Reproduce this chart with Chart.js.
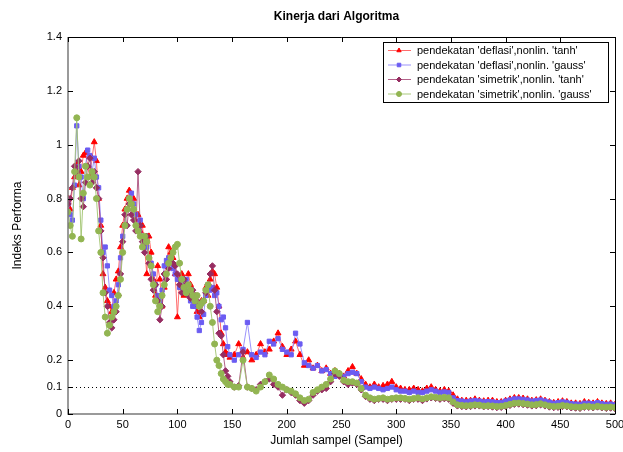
<!DOCTYPE html>
<html>
<head>
<meta charset="utf-8">
<title>Kinerja dari Algoritma</title>
<script src="https://cdn.jsdelivr.net/npm/chart.js@4.4.0/dist/chart.umd.min.js"></script>
<style>
  html, body { margin: 0; padding: 0; background: #fff; }
  #wrap { width: 623px; height: 452px; }
</style>
</head>
<body>
<div id="wrap"><canvas id="kinerja" width="623" height="452"></canvas></div>
<script>
// sample index: every 2nd sample in the noisy start, every 4th after that
const samples = [
  0, 2, 4, 6, 8, 10, 12, 14, 16, 18, 20, 22, 24, 26, 28, 30, 32, 34, 36, 38,
  40, 42, 44, 46, 48, 50, 52, 54, 56, 58, 60, 62, 64, 66, 68, 70, 72, 74, 76, 78,
  80, 82, 84, 86, 88, 90, 92, 94, 96, 98, 100, 102, 104, 106, 108, 110, 112, 114, 116, 118,
  120, 122, 124, 126, 128, 130, 132, 134, 136, 138, 140, 142, 144, 146, 148,
  152, 156,
  160, 164, 168, 172, 176, 180, 184, 188, 192, 196,
  200, 204, 208, 212, 216, 220, 224, 228, 232, 236,
  240, 244, 248, 252, 256, 260, 264, 268, 272, 276,
  280, 284, 288, 292, 296, 300, 304, 308, 312, 316,
  320, 324, 328, 332, 336, 340, 344, 348, 352, 356,
  360, 364, 368, 372, 376, 380, 384, 388, 392, 396,
  400, 404, 408, 412, 416, 420, 424, 428, 432, 436,
  440, 444, 448, 452, 456, 460, 464, 468, 472, 476,
  480, 484, 488, 492, 496, 500
];

const deflasiTanh = [
  0.80, 0.76, 0.84, 0.88, 0.93, 0.85, 0.90, 0.96, 0.97, 0.92, 0.88, 0.95, 1.01, 0.94, 0.80, 0.70, 0.52, 0.47, 0.42, 0.40,
  0.38, 0.45, 0.50, 0.53, 0.62, 0.70, 0.76, 0.80, 0.83, 0.78, 0.80, 0.72, 0.74, 0.68, 0.70, 0.62, 0.52, 0.66, 0.60, 0.50,
  0.44, 0.55, 0.50, 0.40, 0.47, 0.56, 0.62, 0.60, 0.58, 0.52, 0.36, 0.50, 0.52, 0.44, 0.46, 0.52, 0.48, 0.44, 0.41, 0.38,
  0.36, 0.42, 0.42, 0.47, 0.44, 0.50, 0.53, 0.52, 0.47, 0.40, 0.30, 0.26, 0.23, 0.22, 0.21,
  0.22, 0.26,
  0.21, 0.23, 0.20, 0.22, 0.26, 0.23, 0.24, 0.27, 0.30, 0.25,
  0.22, 0.24, 0.27, 0.22, 0.18, 0.20, 0.17, 0.18, 0.16, 0.17,
  0.15, 0.16, 0.15, 0.14, 0.16, 0.175, 0.15, 0.13, 0.11, 0.10,
  0.11, 0.10, 0.105, 0.11, 0.12, 0.10, 0.095, 0.09, 0.09, 0.095,
  0.09, 0.085, 0.095, 0.10, 0.09, 0.085, 0.09, 0.085, 0.07, 0.055,
  0.05, 0.05, 0.05, 0.055, 0.05, 0.048, 0.05, 0.05, 0.045, 0.045,
  0.05, 0.055, 0.06, 0.06, 0.058, 0.055, 0.05, 0.052, 0.055, 0.05,
  0.045, 0.042, 0.045, 0.048, 0.045, 0.04, 0.04, 0.038, 0.045, 0.042,
  0.04, 0.045, 0.04, 0.038, 0.04, 0.035
];

const deflasiGauss = [
  0.78, 0.74, 0.72, 0.85, 1.07, 0.92, 0.88, 0.80, 0.92, 0.98, 0.96, 0.90, 0.95, 0.88, 0.84, 0.72, 0.60, 0.62, 0.55, 0.46,
  0.44, 0.40, 0.42, 0.48, 0.58, 0.66, 0.70, 0.76, 0.80, 0.82, 0.78, 0.74, 0.70, 0.72, 0.66, 0.64, 0.62, 0.58, 0.56, 0.52,
  0.48, 0.44, 0.42, 0.46, 0.55, 0.57, 0.58, 0.56, 0.54, 0.52, 0.50, 0.47, 0.48, 0.46, 0.50, 0.46, 0.42, 0.40, 0.40, 0.36,
  0.31, 0.34, 0.37, 0.44, 0.48, 0.46, 0.47, 0.44, 0.45, 0.40, 0.35, 0.36, 0.32, 0.25, 0.22,
  0.20, 0.22,
  0.24, 0.34, 0.22, 0.21, 0.23, 0.22, 0.27, 0.26, 0.28, 0.24,
  0.23, 0.22, 0.30, 0.26, 0.19, 0.18, 0.17, 0.18, 0.16, 0.165,
  0.15, 0.14, 0.145, 0.14, 0.15, 0.155, 0.15, 0.12, 0.10, 0.095,
  0.10, 0.095, 0.09, 0.095, 0.10, 0.09, 0.085, 0.085, 0.08, 0.085,
  0.08, 0.08, 0.085, 0.09, 0.085, 0.08, 0.082, 0.08, 0.06, 0.05,
  0.048, 0.045, 0.048, 0.05, 0.048, 0.045, 0.046, 0.045, 0.042, 0.043,
  0.048, 0.052, 0.056, 0.056, 0.054, 0.052, 0.048, 0.05, 0.052, 0.048,
  0.044, 0.04, 0.042, 0.045, 0.043, 0.038, 0.037, 0.036, 0.04, 0.04,
  0.038, 0.042, 0.038, 0.036, 0.037, 0.034
];

const simetrikTanh = [
  0.78, 0.80, 0.84, 0.92, 0.90, 0.94, 0.80, 0.77, 0.86, 0.92, 0.95, 0.86, 0.90, 0.84, 0.80, 0.68, 0.58, 0.45, 0.40, 0.34,
  0.32, 0.35, 0.38, 0.44, 0.52, 0.64, 0.74, 0.70, 0.78, 0.74, 0.72, 0.68, 0.90, 0.70, 0.64, 0.60, 0.66, 0.56, 0.50, 0.46,
  0.48, 0.42, 0.35, 0.40, 0.52, 0.50, 0.54, 0.58, 0.56, 0.55, 0.52, 0.48, 0.45, 0.50, 0.48, 0.44, 0.43, 0.46, 0.44, 0.42,
  0.40, 0.38, 0.42, 0.45, 0.48, 0.52, 0.55, 0.46, 0.38, 0.30, 0.29, 0.22, 0.16, 0.14, 0.12,
  0.10, 0.105,
  0.23, 0.10, 0.095, 0.09, 0.11, 0.12, 0.13, 0.11, 0.10, 0.07,
  0.09, 0.08, 0.07, 0.05, 0.04, 0.05, 0.07, 0.085, 0.09, 0.095,
  0.12, 0.15, 0.14, 0.12, 0.11, 0.115, 0.11, 0.09, 0.065, 0.055,
  0.05, 0.055, 0.055, 0.05, 0.055, 0.055, 0.055, 0.055, 0.05, 0.055,
  0.055, 0.05, 0.056, 0.06, 0.058, 0.055, 0.057, 0.055, 0.04, 0.03,
  0.028, 0.027, 0.028, 0.03, 0.03, 0.027, 0.028, 0.026, 0.024, 0.025,
  0.028, 0.032, 0.036, 0.037, 0.035, 0.033, 0.03, 0.031, 0.034, 0.03,
  0.026, 0.024, 0.025, 0.028, 0.027, 0.023, 0.022, 0.021, 0.025, 0.025,
  0.023, 0.026, 0.023, 0.021, 0.022, 0.02
];

const simetrikGauss = [
  0.75, 0.70, 0.66, 0.90, 1.10, 0.88, 0.65, 0.82, 0.92, 0.88, 0.85, 0.90, 0.88, 0.80, 0.68, 0.60, 0.45, 0.36, 0.30, 0.33,
  0.36, 0.38, 0.40, 0.44, 0.50, 0.60, 0.70, 0.76, 0.80, 0.78, 0.76, 0.70, 0.68, 0.66, 0.62, 0.66, 0.64, 0.58, 0.55, 0.48,
  0.42, 0.38, 0.40, 0.44, 0.48, 0.52, 0.56, 0.58, 0.60, 0.62, 0.63, 0.56, 0.50, 0.47, 0.45, 0.48, 0.46, 0.44, 0.42, 0.44,
  0.40, 0.41, 0.42, 0.46, 0.48, 0.40, 0.34, 0.26, 0.20, 0.18, 0.15, 0.13, 0.12, 0.11, 0.11,
  0.10, 0.10,
  0.20, 0.10, 0.095, 0.085, 0.10, 0.12, 0.145, 0.13, 0.11, 0.10,
  0.09, 0.085, 0.075, 0.06, 0.05, 0.055, 0.08, 0.09, 0.10, 0.11,
  0.13, 0.16, 0.15, 0.125, 0.12, 0.12, 0.115, 0.095, 0.07, 0.06,
  0.055, 0.058, 0.06, 0.055, 0.058, 0.06, 0.06, 0.058, 0.055, 0.058,
  0.06, 0.056, 0.06, 0.064, 0.062, 0.06, 0.062, 0.06, 0.045, 0.034,
  0.032, 0.031, 0.032, 0.034, 0.033, 0.03, 0.031, 0.03, 0.028, 0.029,
  0.032, 0.036, 0.04, 0.041, 0.039, 0.037, 0.034, 0.035, 0.038, 0.034,
  0.03, 0.028, 0.029, 0.032, 0.03, 0.027, 0.026, 0.025, 0.028, 0.028,
  0.026, 0.029, 0.026, 0.025, 0.026, 0.024
];

const seriesNames = [
  "pendekatan 'deflasi',nonlin. 'tanh'",
  "pendekatan 'deflasi',nonlin. 'gauss'",
  "pendekatan 'simetrik',nonlin. 'tanh'",
  "pendekatan 'simetrik',nonlin. 'gauss'"
];
const xTicks = [0, 50, 100, 150, 200, 250, 300, 350, 400, 450, 500];
const yTicks = [0, 0.1, 0.2, 0.4, 0.6, 0.8, 1, 1.2, 1.4];
const threshold = 0.1;

const FONT = '"Liberation Sans", Arial, Helvetica, sans-serif';
Chart.defaults.font.family = FONT;
Chart.defaults.font.size = 11;
Chart.defaults.color = '#000';

function toPoints(vals) {
  return samples.map((s, i) => ({ x: s, y: vals[i] }));
}

function makeSet(label, vals, color, line, style, radius, order) {
  return {
    label: label,
    data: toPoints(vals),
    borderColor: line,
    backgroundColor: color,
    pointBackgroundColor: color,
    pointBorderColor: color,
    pointStyle: style,
    pointRadius: radius,
    pointBorderWidth: 1,
    borderWidth: 1,
    tension: 0,
    order: order
  };
}

// frame, inward ticks and the 0.1 dotted line (matlab look)
const framePlugin = {
  id: 'frame',
  beforeDatasetsDraw(chart) {
    const { ctx, chartArea: a, scales: { y } } = chart;
    const yy = Math.round(y.getPixelForValue(threshold)) + 0.5;
    ctx.save();
    ctx.strokeStyle = '#000';
    ctx.lineWidth = 1;
    ctx.setLineDash([1, 3]);
    ctx.beginPath();
    ctx.moveTo(a.left, yy);
    ctx.lineTo(a.right, yy);
    ctx.stroke();
    ctx.restore();
  },
  afterDatasetsDraw(chart) {
    const { ctx, chartArea: a, scales: { x, y } } = chart;
    ctx.save();
    ctx.lineWidth = 1;
    ctx.strokeStyle = '#000';
    ctx.beginPath();
    ctx.moveTo(a.left, a.top + 0.5);
    ctx.lineTo(a.right + 0.5, a.top + 0.5);
    ctx.lineTo(a.right + 0.5, a.bottom);
    ctx.stroke();
    ctx.strokeStyle = '#7a7a7a';
    ctx.lineWidth = 1.5;
    ctx.beginPath();
    ctx.moveTo(a.left, a.top);
    ctx.lineTo(a.left, a.bottom);
    ctx.lineTo(a.right + 1, a.bottom);
    ctx.stroke();
    ctx.strokeStyle = '#000';
    ctx.lineWidth = 1;
    ctx.beginPath();
    xTicks.forEach(v => {
      const px = Math.round(x.getPixelForValue(v)) + 0.5;
      ctx.moveTo(px, a.bottom);
      ctx.lineTo(px, a.bottom - 5);
      ctx.moveTo(px, a.top);
      ctx.lineTo(px, a.top + 5);
    });
    yTicks.forEach(v => {
      const py = Math.round(y.getPixelForValue(v)) + 0.5;
      ctx.moveTo(a.left, py);
      ctx.lineTo(a.left + 5, py);
      ctx.moveTo(a.right, py);
      ctx.lineTo(a.right - 5, py);
    });
    ctx.stroke();
    ctx.restore();
  }
};

const labelPlugin = {
  id: 'labels',
  afterDraw(chart) {
    const { ctx, chartArea: a } = chart;
    const cx = (a.left + a.right) / 2 - 5;
    ctx.save();
    ctx.fillStyle = '#000';
    ctx.textAlign = 'center';
    ctx.textBaseline = 'middle';
    ctx.font = 'bold 12px ' + FONT;
    ctx.fillText('Kinerja dari Algoritma', cx, 17);
    ctx.font = '12px ' + FONT;
    ctx.fillText('Jumlah sampel (Sampel)', cx, 441);
    ctx.translate(18, (a.top + a.bottom) / 2);
    ctx.rotate(-Math.PI / 2);
    ctx.fillText('Indeks Performa', 0, 0);
    ctx.restore();

    // legend box in the top right corner
    const box = { left: 383, top: 42, right: 608, bottom: 102 };
    ctx.save();
    ctx.fillStyle = '#fff';
    ctx.fillRect(box.left, box.top, box.right - box.left, box.bottom - box.top);
    ctx.strokeStyle = '#000';
    ctx.lineWidth = 1;
    ctx.strokeRect(box.left + 0.5, box.top + 0.5, box.right - box.left, box.bottom - box.top);
    ctx.font = '11px ' + FONT;
    ctx.textAlign = 'left';
    ctx.textBaseline = 'middle';
    chart.data.datasets.forEach((ds, i) => {
      const ly = box.top + 8.5 + i * 14.5;
      ctx.strokeStyle = ds.borderColor;
      ctx.beginPath();
      ctx.moveTo(box.left + 5, ly);
      ctx.lineTo(box.left + 28, ly);
      ctx.stroke();
      ctx.fillStyle = ds.pointBackgroundColor;
      ctx.strokeStyle = ds.pointBorderColor;
      Chart.helpers.drawPoint(ctx, { pointStyle: ds.pointStyle, radius: 2.5, rotation: 0, borderWidth: 1 }, box.left + 16, ly);
      ctx.fillStyle = '#000';
      ctx.fillText(ds.label, box.left + 34, ly + 0.5);
    });
    ctx.restore();
  }
};

new Chart(document.getElementById('kinerja'), {
  type: 'line',
  data: {
    datasets: [
      makeSet(seriesNames[0], deflasiTanh, '#ff0000', 'rgba(255,60,60,0.75)', 'triangle', 3.4, 4),
      makeSet(seriesNames[1], deflasiGauss, '#6b5cf2', 'rgba(130,120,250,0.8)', 'rect', 3, 3),
      makeSet(seriesNames[2], simetrikTanh, '#962d61', 'rgba(160,60,110,0.8)', 'rectRot', 3.2, 2),
      makeSet(seriesNames[3], simetrikGauss, '#92b552', 'rgba(160,195,110,0.9)', 'circle', 3, 1)
    ]
  },
  options: {
    responsive: false,
    animation: false,
    layout: { padding: { top: 37, right: 8, left: 0, bottom: 0 } },
    plugins: {
      legend: { display: false },
      title: { display: false },
      tooltip: { enabled: false }
    },
    scales: {
      x: {
        type: 'linear',
        min: 0,
        max: 500,
        grid: { display: false, drawTicks: false },
        border: { display: false },
        afterBuildTicks: s => { s.ticks = xTicks.map(v => ({ value: v })); },
        afterFit: s => { s.height = 38; s.paddingLeft = 0; s.paddingRight = 0; },
        ticks: { maxRotation: 0, autoSkip: false, padding: 4, callback: v => String(v) }
      },
      y: {
        type: 'linear',
        min: 0,
        max: 1.4,
        grid: { display: false, drawTicks: false },
        border: { display: false },
        afterBuildTicks: s => { s.ticks = yTicks.map(v => ({ value: v })); },
        afterFit: s => { s.width = 68; s.paddingTop = 0; s.paddingBottom = 0; },
        ticks: { autoSkip: false, padding: 6, callback: v => String(v) }
      }
    }
  },
  plugins: [framePlugin, labelPlugin]
});
</script>
</body>
</html>
